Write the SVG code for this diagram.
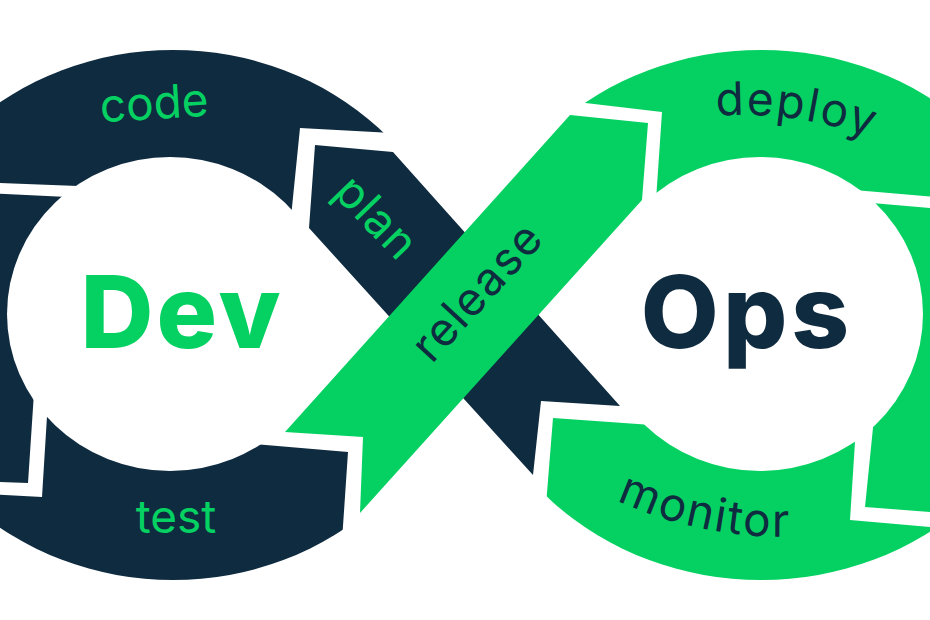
<svg xmlns="http://www.w3.org/2000/svg" xmlns:xlink="http://www.w3.org/1999/xlink" width="930" height="620" viewBox="0 0 930 620">
  <style>
    .navy { fill: #0f2b40; }
    .green { fill: #05d162; }
    .lbl { font-family: Inter, "Liberation Sans", sans-serif; font-size: 46px; font-weight: 400; }
    .big { font-family: Inter, "Liberation Sans", sans-serif; font-size: 101px; font-weight: 800; }
    .t-green { fill: #05d162; }
    .t-navy { fill: #0f2b40; }
  </style>
  <defs>
    <mask id="holeL" maskUnits="userSpaceOnUse" x="-100" y="-100" width="1200" height="900">
      <rect x="-100" y="-100" width="1200" height="900" fill="#fff"/>
      <ellipse cx="170" cy="314" rx="163" ry="157" fill="#000"/>
    </mask>
    <mask id="holeR" maskUnits="userSpaceOnUse" x="-100" y="-100" width="1200" height="900">
      <rect x="-100" y="-100" width="1200" height="900" fill="#fff"/>
      <ellipse cx="760" cy="314" rx="163" ry="157" fill="#000"/>
    </mask>
    <clipPath id="c-code"><polygon points="-50,-50 420,-50 420,134.6 300,128 288.7,240 130,188 -50,181"/></clipPath>
    <clipPath id="c-left"><polygon points="-50,191.5 130,200 120,380 34.5,385 28,483 -50,480"/></clipPath>
    <clipPath id="c-test"><polygon points="-50,492 42,497 48,400 150,400 240,442.7 348,452 338,600 338,700 -50,700"/></clipPath>
    <clipPath id="c-deploy"><polygon points="560,-50 1000,-50 1000,202.5 860,190.5 780,183.6 655,215 662,112 560,100"/></clipPath>
    <clipPath id="c-right"><polygon points="780,195 860,202 1000,214 1000,515.5 930,512 865,507 875.3,405 800,300"/></clipPath>
    <clipPath id="c-monitor"><polygon points="544,530 553,418 680,427 760,420 856.4,420 850,520 930,527 1000,533 1000,700 544,700"/></clipPath>
    <path id="p-deploy" d="M 656.1 124.7 A 380 380 0 0 1 927.3 163.4" fill="none"/>
    <path id="p-monitor" d="M 572.8 476.8 A 400 400 0 0 0 840.6 532.8" fill="none"/>
  </defs>

  <g id="dev-loop">
    <g id="seg-code">
      <ellipse class="navy" cx="173" cy="315" rx="290" ry="265" clip-path="url(#c-code)" mask="url(#holeL)"/>
      <text class="lbl t-green" transform="translate(155,119) rotate(-3.5)" text-anchor="middle">code</text>
    </g>
    <g id="seg-left">
      <ellipse class="navy" cx="173" cy="315" rx="290" ry="265" clip-path="url(#c-left)" mask="url(#holeL)"/>
    </g>
    <g id="seg-test">
      <ellipse class="navy" cx="173" cy="315" rx="290" ry="265" clip-path="url(#c-test)" mask="url(#holeL)"/>
      <text class="lbl t-green" x="176" y="533" text-anchor="middle">test</text>
    </g>
    <text id="dev" class="big t-green" x="182" y="348" text-anchor="middle" letter-spacing="3">Dev</text>
  </g>

  <g id="ops-loop">
    <g id="seg-deploy">
      <ellipse class="green" cx="761" cy="315" rx="294" ry="265" clip-path="url(#c-deploy)" mask="url(#holeR)"/>
      <text class="lbl t-navy" letter-spacing="2"><textPath href="#p-deploy" xlink:href="#p-deploy" startOffset="50%" text-anchor="middle">deploy</textPath></text>
    </g>
    <g id="seg-right">
      <ellipse class="green" cx="761" cy="315" rx="294" ry="265" clip-path="url(#c-right)" mask="url(#holeR)"/>
    </g>
    <g id="seg-monitor">
      <ellipse class="green" cx="761" cy="315" rx="294" ry="265" clip-path="url(#c-monitor)" mask="url(#holeR)"/>
      <text class="lbl t-navy" letter-spacing="2"><textPath href="#p-monitor" xlink:href="#p-monitor" startOffset="50%" text-anchor="middle">monitor</textPath></text>
    </g>
    <text id="ops" class="big t-navy" x="747" y="348" text-anchor="middle" letter-spacing="4">Ops</text>
  </g>

  <g id="seg-plan">
    <polygon class="navy" points="315,145 393,152 620,406 541,401 533,475 309,228"/>
    <text class="lbl t-green" transform="translate(374,220) rotate(46)" x="0" y="12" text-anchor="middle" letter-spacing="1">plan</text>
  </g>
  <g id="seg-release">
    <polygon class="green" points="570,115 648,123 642,200 360,513 363,437 285,432"/>
    <text class="lbl t-navy" transform="translate(480,294) rotate(-47.5)" x="0" y="12" text-anchor="middle" letter-spacing="1.5">release</text>
  </g>
</svg>
